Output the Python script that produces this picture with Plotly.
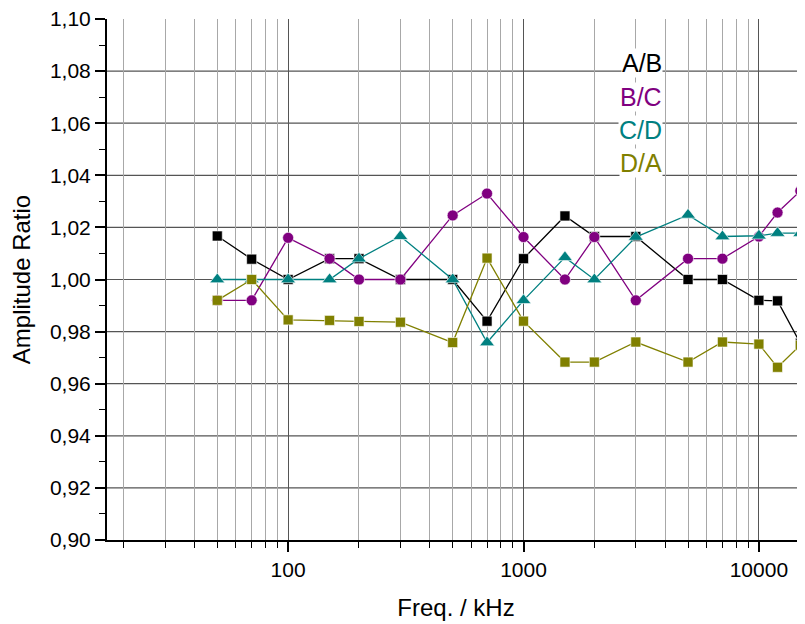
import math
import plotly.graph_objects as go

freq = [50, 70, 100, 150, 200, 300, 500, 700, 1000, 1500, 2000, 3000, 5000, 7000, 10000, 12000, 15000]
ab = [1.0167, 1.0078, 1.000, 1.008, 1.008, 1.000, 1.000, 0.984, 1.008, 1.0244, 1.0165, 1.0165, 1.000, 1.000, 0.992, 0.9918, 0.9755]
bc = [0.992, 0.992, 1.016, 1.008, 1.000, 1.000, 1.0246, 1.033, 1.0163, 1.000, 1.0163, 0.992, 1.008, 1.008, 1.0165, 1.0257, 1.034]
cd = [1.000, 1.000, 1.000, 1.000, 1.008, 1.0166, 1.000, 0.9758, 0.992, 1.0085, 1.000, 1.0163, 1.0248, 1.0165, 1.0168, 1.0178, 1.0178]
da = [0.992, 1.000, 0.9845, 0.9843, 0.9839, 0.9836, 0.9758, 1.0082, 0.984, 0.9683, 0.9683, 0.976, 0.9683, 0.976, 0.9752, 0.9663, 0.9748]

names = ["A/B", "B/C", "C/D", "D/A"]
colors = ["#000000", "#800080", "#008080", "#808000"]
symbols = ["square", "circle", "triangle-up", "square"]
sizes = [10, 11, 13, 10]
series = [ab, bc, cd, da]

y_ticks = [0.90, 0.92, 0.94, 0.96, 0.98, 1.00, 1.02, 1.04, 1.06, 1.08, 1.10]
y_ticktext = ["0,90", "0,92", "0,94", "0,96", "0,98", "1,00", "1,02", "1,04", "1,06", "1,08", "1,10"]
y_grid = y_ticks[1:-1]
x_ticks = [100, 1000, 10000]
x_ticktext = ["100", "1000", "10000"]
x_minor = [20, 30, 40, 50, 60, 70, 80, 90, 200, 300, 400, 500, 600, 700, 800, 900,
           2000, 3000, 4000, 5000, 6000, 7000, 8000, 9000]

fig = go.Figure()
for name, ys, c, s, sz in zip(names, series, colors, symbols, sizes):
    fig.add_trace(go.Scatter(
        x=freq, y=ys, name=name, mode="lines+markers",
        line=dict(color=c, width=1.3),
        marker=dict(color=c, symbol=s, size=sz, line=dict(color="white", width=0.6)),
        cliponaxis=False,
    ))

# horizontal grid lines at the inner major ticks (no line along the top edge)
for gv in y_grid:
    fig.add_shape(type="line", xref="paper", yref="y", x0=0, x1=1, y0=gv, y1=gv,
                  line=dict(color="#555555", width=1.2), layer="below")

font_family = "Liberation Sans, Arial, sans-serif"

leg_y = [0.9155, 0.850, 0.787, 0.7236]
for name, c, yy in zip(names, colors, leg_y):
    fig.add_annotation(
        x=0.7966, y=yy, xref="paper", yref="paper", text=name, showarrow=False,
        xanchor="right", yanchor="middle",
        font=dict(family=font_family, size=25, color=c),
        bgcolor="white", borderpad=0,
    )

# page body adds an 8px offset, so the figure is 8px smaller and shifted
fig.update_layout(
    width=797, height=616,
    margin=dict(l=99, r=0, t=11, b=84, autoexpand=False),
    paper_bgcolor="white", plot_bgcolor="white",
    showlegend=False,
    font=dict(family=font_family, color="black"),
)

fig.update_xaxes(
    type="log", range=[math.log10(17), math.log10(15700)],
    automargin=False, ticklabeloverflow="allow",
    tickvals=x_ticks, ticktext=x_ticktext,
    ticks="outside", ticklen=10, tickwidth=1.5, tickcolor="black",
    tickfont=dict(size=21, family=font_family),
    showline=True, linecolor="black", linewidth=2,
    showgrid=True, gridcolor="#555555", gridwidth=1.2,
    zeroline=False,
    minor=dict(tickvals=x_minor, ticks="outside", ticklen=6, tickwidth=1.2,
               tickcolor="black", showgrid=True, gridcolor="#a8a8a8", gridwidth=1),
    title=dict(text="Freq. / kHz", font=dict(size=24, family=font_family), standoff=19),
)

fig.update_yaxes(
    range=[0.90, 1.10],
    automargin=False, ticklabeloverflow="allow",
    tickvals=y_ticks, ticktext=y_ticktext,
    ticks="outside", ticklen=10, tickwidth=1.5, tickcolor="black",
    tickfont=dict(size=21, family=font_family),
    showline=True, linecolor="black", linewidth=2,
    showgrid=False,
    zeroline=False,
    minor=dict(dtick=0.01, ticks="outside", ticklen=6, tickwidth=1.2,
               tickcolor="black", showgrid=False),
    title=dict(text="Amplitude Ratio", font=dict(size=24, family=font_family), standoff=16),
)

fig.write_html("out.html")
